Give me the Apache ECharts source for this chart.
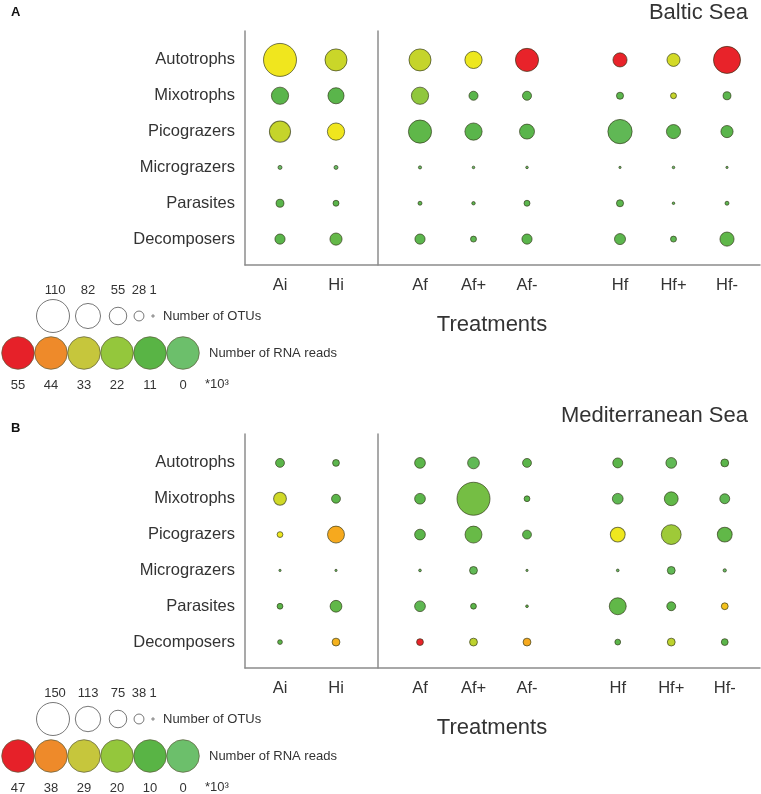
<!DOCTYPE html>
<html>
<head>
<meta charset="utf-8">
<script src="https://cdn.jsdelivr.net/npm/echarts@6/dist/echarts.min.js"></script>
<style>
html,body{margin:0;padding:0;background:#fff;}
#chart{width:761px;height:794px;}
</style>
</head>
<body>
<div id="chart"></div>
<script>
// ---------- DATA ----------
const functionalGroups = ['Autotrophs', 'Mixotrophs', 'Picograzers', 'Micrograzers', 'Parasites', 'Decomposers'];
const initialTreatments = ['Ai', 'Hi'];
const aTreatments = ['Af', 'Af+', 'Af-'];
const hTreatments = ['Hf', 'Hf+', 'Hf-'];
const treatments = ['Ai', 'Hi', 'Af', 'Af+', 'Af-', 'Hf', 'Hf+', 'Hf-'];

// Baltic Sea: number of OTUs (rows = functional groups, columns = treatments)
const balticOTUs = [
  [110, 71, 71, 54, 75, 43, 39, 89],
  [54, 50, 54, 25, 25, 18, 14, 21],
  [68, 54, 75, 54, 46, 79, 43, 36],
  [7, 7, 4, 2, 2, 1, 2, 1],
  [21, 14, 7, 5, 14, 18, 2, 7],
  [29, 36, 29, 14, 29, 32, 14, 43]
];
// Baltic Sea: number of RNA reads (*10^3)
const balticReads = [
  [37, 28, 27, 36, 55, 55, 30, 55],
  [9, 9, 19, 9, 9, 8, 27, 8],
  [27, 37, 10, 9, 9, 6, 9, 9],
  [2, 2, 2, 2, 2, 2, 2, 2],
  [9, 9, 8, 8, 8, 8, 5, 7],
  [9, 11, 8, 7, 9, 8, 7, 10]
];
// Mediterranean Sea: number of OTUs
const medOTUs = [
  [33, 23, 42, 47, 33, 38, 42, 28],
  [52, 33, 42, 150, 18, 42, 57, 38],
  [18, 72, 42, 72, 33, 62, 86, 62],
  [1, 1, 3, 28, 1, 3, 28, 6],
  [18, 47, 42, 18, 3, 72, 33, 23],
  [13, 28, 23, 28, 28, 18, 28, 23]
];
// Mediterranean Sea: number of RNA reads (*10^3)
const medReads = [
  [8, 7, 8, 5, 8, 8, 5, 8],
  [25, 8, 8, 12, 8, 6, 9, 6],
  [31, 39, 8, 10, 8, 31, 18, 9],
  [2, 2, 2, 5, 2, 2, 5, 2],
  [8, 9, 6, 8, 8, 9, 8, 36],
  [8, 38, 47, 22, 39, 8, 22, 8]
];
// Legend tick labels
const balticOtuLegend = [110, 82, 55, 28, 1];
const balticReadsLegend = [55, 44, 33, 22, 11, 0];
const medOtuLegend = [150, 113, 75, 38, 1];
const medReadsLegend = [47, 38, 29, 20, 10, 0];

// ---------- STYLE / LAYOUT ----------
const FONT = 'Liberation Sans, Arial, sans-serif';
const AXIS_COLOR = '#8c8c8c';
const dataColors = ['#6cbf6b', '#5ab54a', '#8cc63e', '#c8d52a', '#f0e81e', '#f6a81e', '#e8232a'];
const legendColors = ['#e62129', '#ee8a2a', '#c6c63c', '#94c73c', '#59b445', '#6cbf6b'];
const D_MIN = 2.3, D_MAX = 33;

function sizeScale(maxOtu) {
  return function (otu) { return D_MIN + (D_MAX - D_MIN) * (otu - 1) / (maxOtu - 1); };
}

const option = {
  animation: false,
  backgroundColor: '#fff',
  grid: [], xAxis: [], yAxis: [], series: [], visualMap: [], graphic: []
};

function buildPanel(cfg) {
  const dy = cfg.dy;
  const g0 = option.grid.length;
  const hidden = { show: false };
  const lineAxis = function (gi) {
    return {
      gridIndex: gi, type: 'value', min: 0, max: 1,
      axisLine: { show: true, onZero: false, lineStyle: { color: AXIS_COLOR, width: 1.5 } },
      axisTick: hidden, axisLabel: hidden, splitLine: hidden
    };
  };
  // frame grid (axis lines)
  option.grid.push({ left: 245, top: 31 + dy, width: 515, height: 234 });
  option.xAxis.push(lineAxis(g0));
  option.yAxis.push(lineAxis(g0));
  // separator grid
  option.grid.push({ left: 378, top: 31 + dy, width: 2, height: 234 });
  option.xAxis.push({ gridIndex: g0 + 1, type: 'value', show: false, min: 0, max: 1 });
  option.yAxis.push(lineAxis(g0 + 1));

  const size = sizeScale(cfg.otuLegend[0]);
  const groups = [
    { cats: initialTreatments, left: 252, width: 112, labels: true },
    { cats: aTreatments, left: 393.25, width: 160.5, labels: false },
    { cats: hTreatments, left: cfg.hLeft, width: 160.5, labels: false }
  ];
  const seriesIdx = [];
  groups.forEach(function (grp, k) {
    const gi = g0 + 2 + k;
    option.grid.push({ left: grp.left, top: 42 + dy, width: grp.width, height: 215 });
    option.xAxis.push({
      gridIndex: gi, type: 'category', data: grp.cats, offset: 8,
      axisLine: hidden, axisTick: hidden, splitLine: hidden,
      axisLabel: { fontSize: 16.5, color: '#333', margin: 12, fontFamily: FONT }
    });
    option.yAxis.push({
      gridIndex: gi, type: 'category', data: functionalGroups, inverse: true, offset: 7,
      show: grp.labels,
      axisLine: hidden, axisTick: hidden, splitLine: hidden,
      axisLabel: { fontSize: 16.5, color: '#333', margin: 10, fontFamily: FONT }
    });
    const data = [];
    functionalGroups.forEach(function (fg, r) {
      grp.cats.forEach(function (t) {
        const c = treatments.indexOf(t);
        data.push([t, fg, cfg.reads[r][c], cfg.otus[r][c]]);
      });
    });
    seriesIdx.push(option.series.length);
    option.series.push({
      type: 'scatter', xAxisIndex: gi, yAxisIndex: gi, data: data,
      symbol: 'circle',
      symbolSize: function (v) { return size(v[3]); },
      itemStyle: { opacity: 1, borderColor: 'rgba(45,50,20,0.65)', borderWidth: 1 },
      emphasis: { disabled: true }
    });
  });
  option.visualMap.push({
    type: 'continuous', show: false, min: 0, max: cfg.readsLegend[0], dimension: 2,
    seriesIndex: seriesIdx, inRange: { color: dataColors }
  });

  // titles and labels
  const G = option.graphic;
  G.push({ type: 'text', x: 11, y: 12 + dy + cfg.letterDy, style: { text: cfg.letter, fill: '#111', font: 'bold 13px ' + FONT, align: 'left', verticalAlign: 'middle' } });
  G.push({ type: 'text', x: 748, y: 13 + dy, style: { text: cfg.title, fill: '#333', font: '22px ' + FONT, align: 'right', verticalAlign: 'middle' } });
  G.push({ type: 'text', x: 492, y: 325 + dy, style: { text: 'Treatments', fill: '#333', font: '22px ' + FONT, align: 'center', verticalAlign: 'middle' } });

  // OTU size legend
  const otuX = [53, 88, 118, 139, 153];
  cfg.otuLegend.forEach(function (v, i) {
    G.push({ type: 'text', x: otuX[i] + (i === 0 ? 2 : 0), y: 290 + dy, style: { text: String(v), fill: '#333', font: '13px ' + FONT, align: 'center', verticalAlign: 'middle' } });
    G.push({ type: 'circle', shape: { cx: otuX[i], cy: 316 + dy, r: size(v) / 2 }, style: { fill: '#fff', stroke: '#555', lineWidth: 0.8 } });
  });
  G.push({ type: 'text', x: 163, y: 316 + dy, style: { text: 'Number of OTUs', fill: '#333', font: '13px ' + FONT, align: 'left', verticalAlign: 'middle' } });

  // RNA reads colour legend
  cfg.readsLegend.forEach(function (v, i) {
    const cx = 18 + 33 * i;
    G.push({ type: 'circle', shape: { cx: cx, cy: 353 + dy, r: 16.3 }, style: { fill: legendColors[i], stroke: '#5a5a3a', lineWidth: 0.7 } });
    G.push({ type: 'text', x: cx, y: 385 + dy, style: { text: String(v), fill: '#333', font: '13px ' + FONT, align: 'center', verticalAlign: 'middle' } });
  });
  G.push({ type: 'text', x: 205, y: 384 + dy, style: { text: '*10³', fill: '#333', font: '13px ' + FONT, align: 'left', verticalAlign: 'middle' } });
  G.push({ type: 'text', x: 209, y: 353 + dy, style: { text: 'Number of RNA reads', fill: '#333', font: '13px ' + FONT, align: 'left', verticalAlign: 'middle' } });
}

buildPanel({ dy: 0, letter: 'A', letterDy: 0, title: 'Baltic Sea', otus: balticOTUs, reads: balticReads, otuLegend: balticOtuLegend, readsLegend: balticReadsLegend, hLeft: 593.25 });
buildPanel({ dy: 403, letter: 'B', letterDy: 13, title: 'Mediterranean Sea', otus: medOTUs, reads: medReads, otuLegend: medOtuLegend, readsLegend: medReadsLegend, hLeft: 591 });

const chart = echarts.init(document.getElementById('chart'), null, { renderer: 'canvas' });
chart.setOption(option);
</script>
</body>
</html>
